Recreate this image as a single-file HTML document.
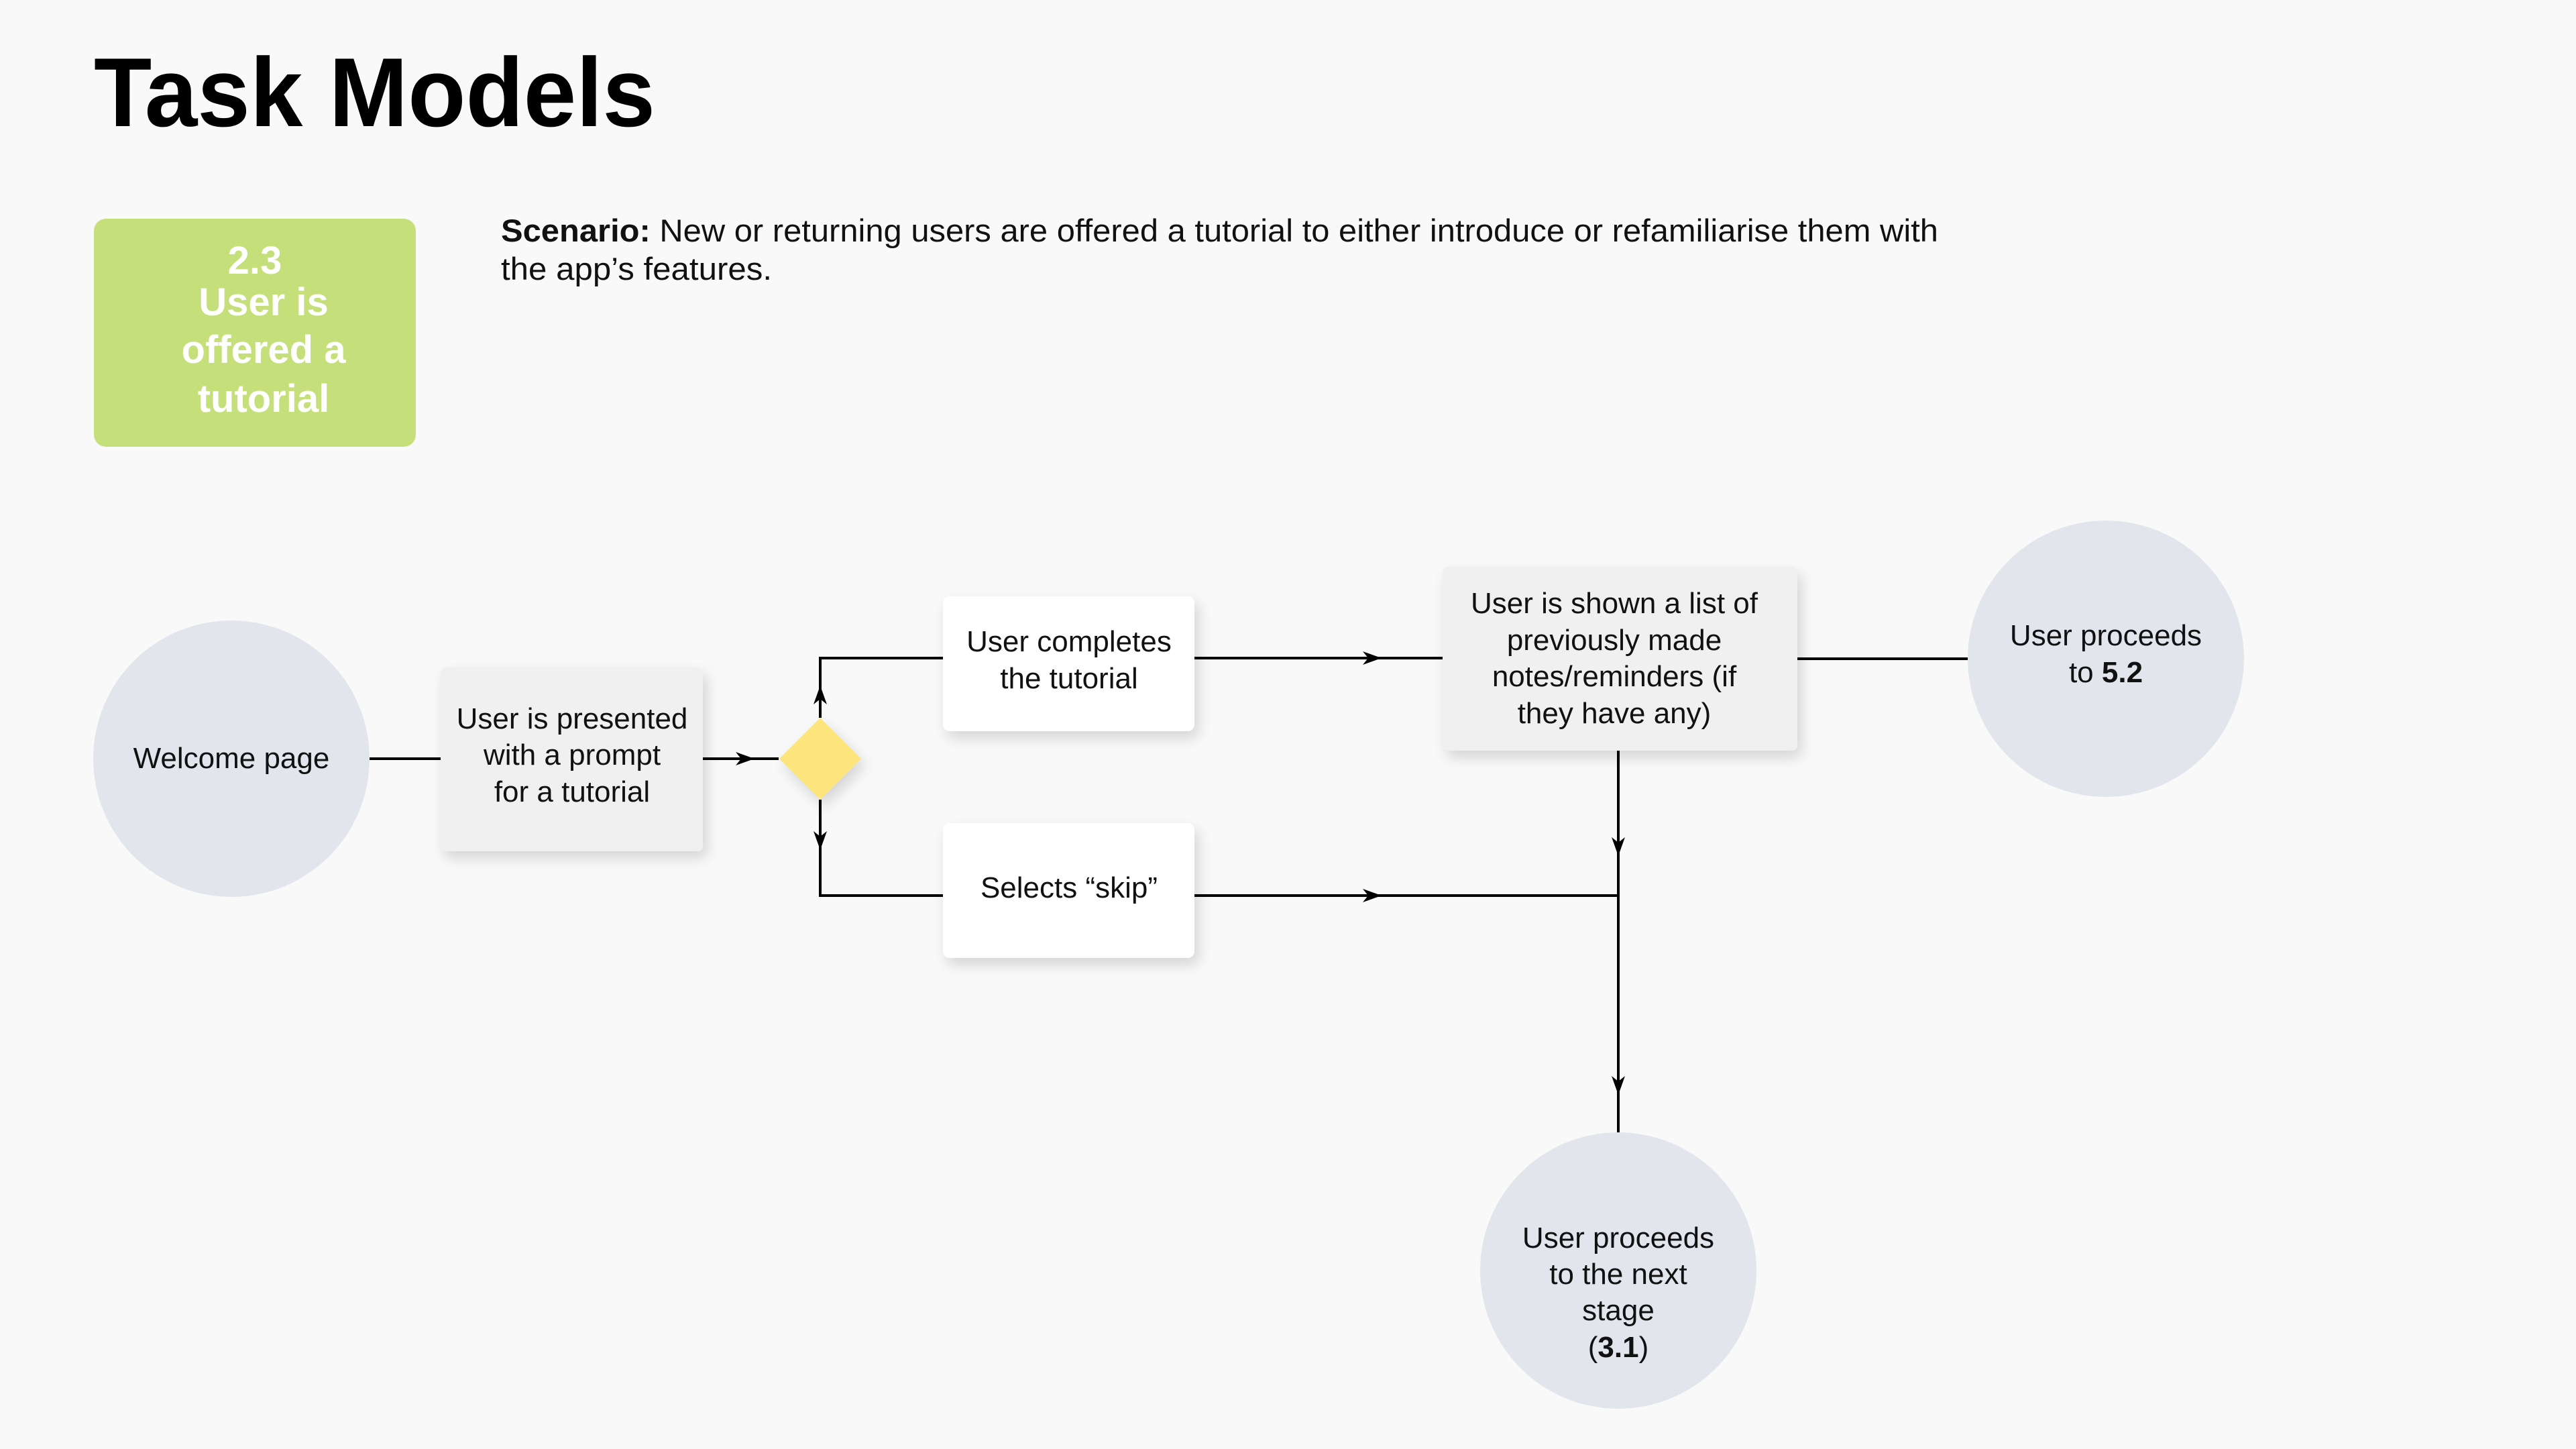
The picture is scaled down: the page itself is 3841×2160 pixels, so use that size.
<!DOCTYPE html>
<html><head><meta charset="utf-8"><style>
html,body{margin:0;padding:0;background:#f9f9f9;}
svg{display:block;}
text{font-family:"Liberation Sans",sans-serif;}
</style></head><body>
<svg width="3841" height="2160" viewBox="0 0 3841 2160" xmlns="http://www.w3.org/2000/svg">
<defs>
<filter id="sh" x="-20%" y="-20%" width="150%" height="150%"><feDropShadow dx="6" dy="10" stdDeviation="10" flood-color="#000" flood-opacity="0.15"/></filter>
</defs>
<rect width="3841" height="2160" fill="#f9f9f9"/>
<text x="140" y="188" font-size="146" font-weight="bold" fill="#000" textLength="837" lengthAdjust="spacingAndGlyphs">Task Models</text>
<rect x="140" y="326" width="480" height="340" rx="18" fill="#c5e07a"/>
<g fill="#fff" font-size="58" font-weight="bold" text-anchor="middle">
<text x="380" y="408">2.3</text>
<text x="393" y="470">User is</text>
<text x="393" y="541">offered a</text>
<text x="393" y="614">tutorial</text>
</g>
<text x="747" y="360" font-size="47" fill="#111" textLength="2143" lengthAdjust="spacingAndGlyphs"><tspan font-weight="bold">Scenario:</tspan> New or returning users are offered  a tutorial to either introduce or refamiliarise them with</text>
<text x="747" y="417" font-size="47" fill="#111" textLength="404" lengthAdjust="spacingAndGlyphs">the app’s features.</text>
<g stroke="#000" stroke-width="4" fill="none">
<line x1="551" y1="1131" x2="657" y2="1131"/>
<line x1="1048" y1="1131" x2="1161" y2="1131"/>
<polyline points="1223,1070 1223,981 1406,981"/>
<polyline points="1223,1192 1223,1335 1406,1335"/>
<line x1="1781" y1="981" x2="2151" y2="981"/>
<line x1="1781" y1="1335" x2="2413" y2="1335"/>
<line x1="2680" y1="982" x2="2934" y2="982"/>
<line x1="2413" y1="1119" x2="2413" y2="1690"/>
</g>
<g fill="#000">
<path d="M1125,1131 l-28,-10 l8,10 l-8,10z"/>
<path d="M1223,1022 l-10,28 l10,-8 l10,8z"/>
<path d="M1223,1267 l-10,-28 l10,8 l10,-8z"/>
<path d="M2060,981 l-28,-10 l8,10 l-8,10z"/>
<path d="M2060,1335 l-28,-10 l8,10 l-8,10z"/>
<path d="M2413,1276 l-10,-28 l10,8 l10,-8z"/>
<path d="M2413,1632 l-10,-28 l10,8 l10,-8z"/>
</g>
<circle cx="345" cy="1131" r="206" fill="#e2e6ec"/>
<circle cx="3140" cy="982" r="206" fill="#e2e6ec"/>
<circle cx="2413" cy="1894" r="206" fill="#e2e6ec"/>
<rect x="657" y="995" width="391" height="274" rx="8" fill="#f0f0f0" filter="url(#sh)"/>
<rect x="2151" y="845" width="529" height="274" rx="8" fill="#f0f0f0" filter="url(#sh)"/>
<rect x="1406" y="889" width="375" height="201" rx="10" fill="#fff" filter="url(#sh)"/>
<rect x="1406" y="1227" width="375" height="201" rx="10" fill="#fff" filter="url(#sh)"/>
<path d="M1223,1070 L1284,1131 L1223,1192 L1162,1131z" fill="#fde47c" filter="url(#sh)"/>
<g font-size="44" fill="#111" text-anchor="middle">
<text x="345" y="1145">Welcome page</text>
<text x="853" y="1086">User is presented</text>
<text x="853" y="1140">with a prompt</text>
<text x="853" y="1195">for a tutorial</text>
<text x="1594" y="971">User completes</text>
<text x="1594" y="1026">the tutorial</text>
<text x="1594" y="1338">Selects “skip”</text>
<text x="2407" y="914">User is shown a list of</text>
<text x="2407" y="969">previously made</text>
<text x="2407" y="1023">notes/reminders (if</text>
<text x="2407" y="1078">they have any)</text>
<text x="3140" y="962">User proceeds</text>
<text x="3140" y="1017">to <tspan font-weight="bold">5.2</tspan></text>
<text x="2413" y="1860">User proceeds</text>
<text x="2413" y="1914">to the next</text>
<text x="2413" y="1968">stage</text>
<text x="2413" y="2023">(<tspan font-weight="bold">3.1</tspan>)</text>
</g>
</svg>
</body></html>
